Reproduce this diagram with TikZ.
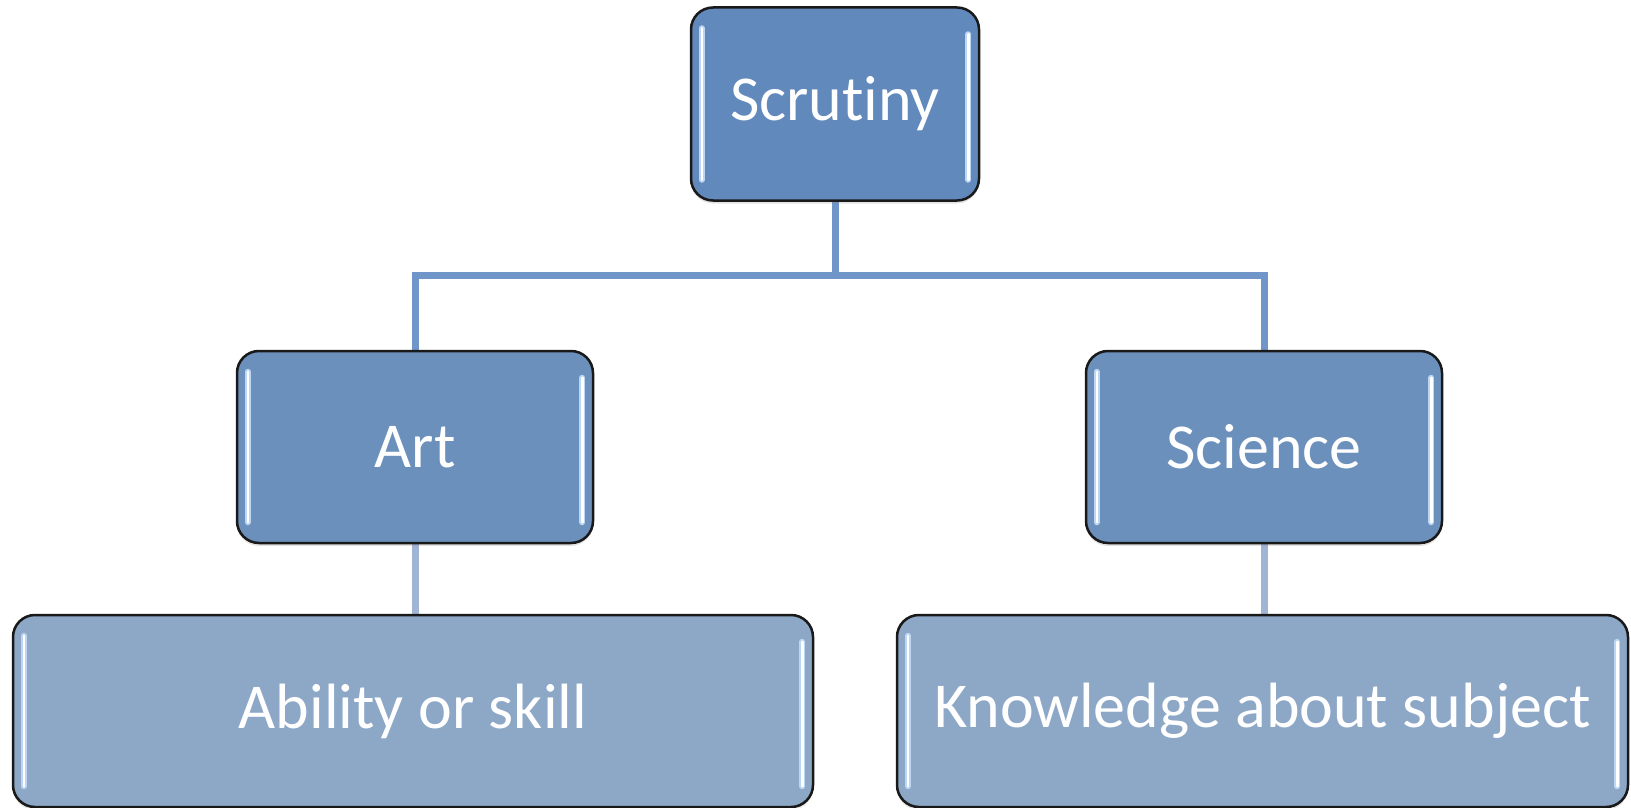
\documentclass[tikz,border=0pt]{standalone}
\usepackage{fontspec}
\setmainfont{Carlito}[Ligatures={NoCommon}]
\usetikzlibrary{shadows,calc}
\definecolor{topfill}{HTML}{6189BC}
\definecolor{midfill}{HTML}{6C90BC}
\definecolor{botfill}{HTML}{8DA7C7}
\definecolor{upline}{HTML}{7095C8}
\definecolor{lowline}{HTML}{A0B4D6}
\definecolor{hledge}{HTML}{BCD6F4}
\tikzset{
  boxbase/.style={draw=black!90, line width=2.5pt, rounded corners=22pt,
    text=white, font=\fontsize{64}{70}\selectfont, align=center,
    drop shadow={opacity=0.22, shadow xshift=0pt, shadow yshift=-3pt}},
  topbox/.style={boxbase, fill=topfill, minimum width=288pt, minimum height=193pt},
  midbox/.style={boxbase, fill=midfill, minimum width=356pt, minimum height=192pt},
  botbox/.style={boxbase, fill=botfill, minimum height=192pt},
  upconn/.style={draw=upline, line width=7pt},
  lowconn/.style={draw=lowline, line width=7pt},
  hlout/.style={draw=hledge, line width=6pt, line cap=round},
  hlin/.style={draw=white, line width=2.5pt, line cap=round}
}
\newcommand{\gloss}[1]{%
  \draw[hlout] ([xshift=12pt,yshift=-22pt]#1.north west) -- ([xshift=12pt,yshift=22pt]#1.south west);
  \draw[hlin] ([xshift=12pt,yshift=-22pt]#1.north west) -- ([xshift=12pt,yshift=22pt]#1.south west);
  \draw[hlout] ([xshift=-12pt,yshift=-28pt]#1.north east) -- ([xshift=-12pt,yshift=22pt]#1.south east);
  \draw[hlin] ([xshift=-12pt,yshift=-28pt]#1.north east) -- ([xshift=-12pt,yshift=22pt]#1.south east);
}
\begin{document}
\begin{tikzpicture}[x=1pt,y=-1pt]
\useasboundingbox (0,0) rectangle (1631,808);
\coordinate (j) at (835,275);
% connectors (behind)
\path (835,104) coordinate (tc) (415,447) coordinate (ac) (1264,447) coordinate (sc);
\draw[upconn] (835,200) -- (j);
\draw[upconn] (415,352) |- (j) -| (1264,352);
\draw[lowconn] (415,543) -- (415,616);
\draw[lowconn] (1264,543) -- (1264,616);
% boxes
\node[topbox] (top) at (tc) {Scrutiny};
\node[midbox] (art) at (ac) {Art};
\node[midbox] (sci) at (sc) {Science};
\node[botbox, minimum width=800pt] (abil) at (413,711) {Ability or skill};
\node[botbox, minimum width=731pt] (know) at (1262.5,711) {Knowledge about subject};
\gloss{top}\gloss{art}\gloss{sci}\gloss{abil}\gloss{know}
\end{tikzpicture}
\end{document}
